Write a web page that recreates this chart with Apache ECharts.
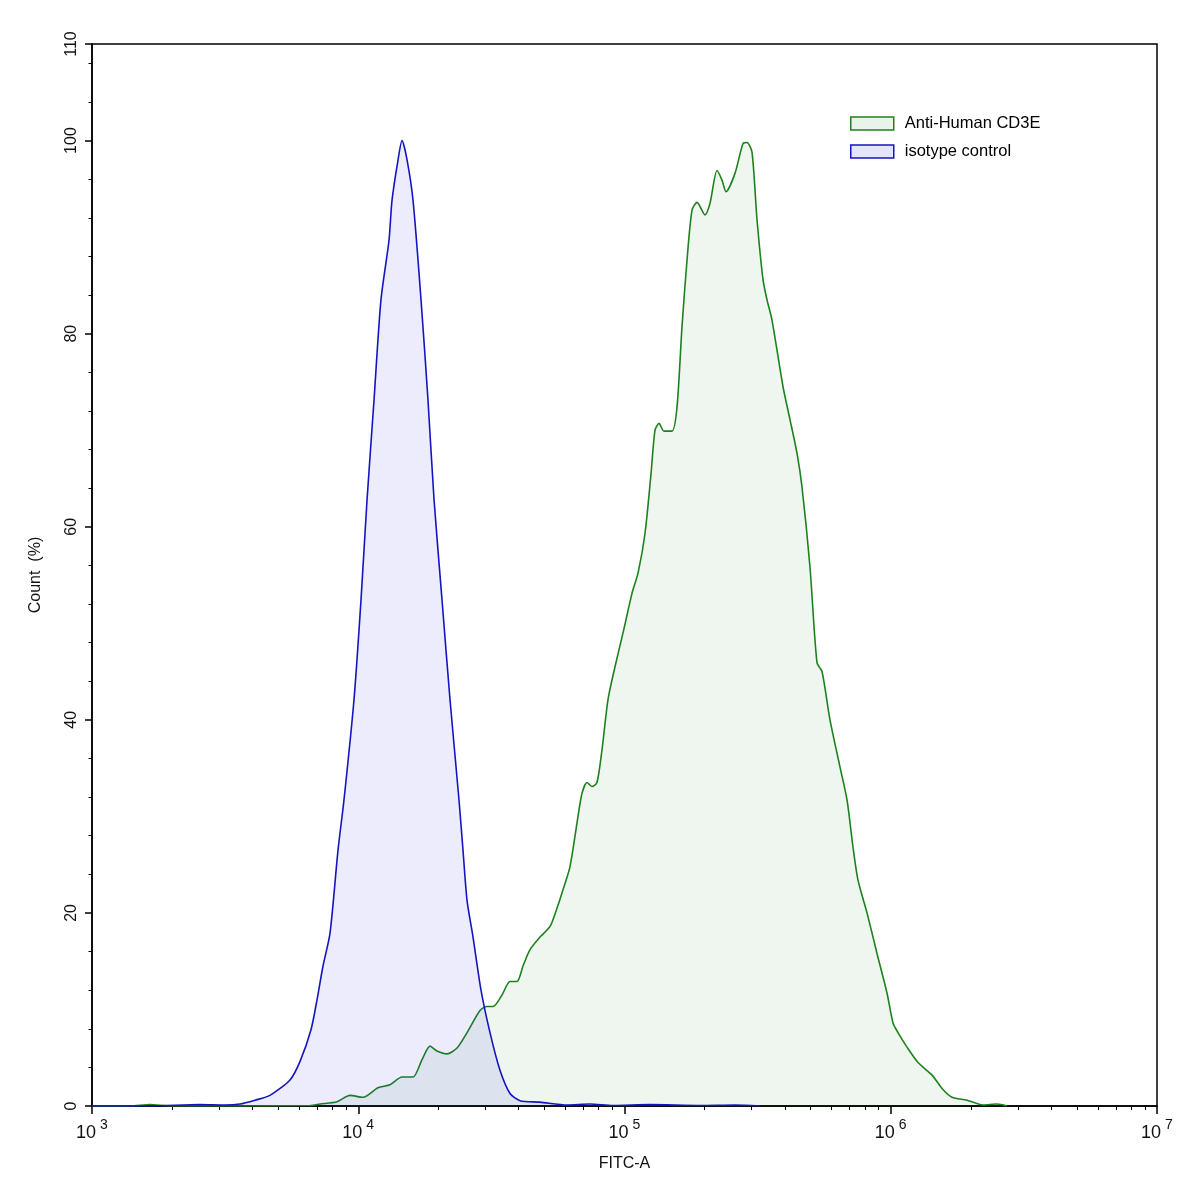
<!DOCTYPE html>
<html>
<head>
<meta charset="utf-8">
<script src="https://cdn.jsdelivr.net/npm/echarts@6/dist/echarts.min.js"></script>
<style>
html,body{margin:0;padding:0;background:#fff;}
#chart{width:1197px;height:1193px;}
</style>
</head>
<body>
<div id="chart"></div>
<script>
// ---- Data (FITC-A intensity vs Count %) ----
const seriesNames = ['Anti-Human CD3E', 'isotype control'];

const fitcIso = [1000, 1651, 2545, 3158, 3596, 4095, 4660, 5540, 6040, 6645, 7000, 7373, 7834, 8394, 8840, 9640, 10240, 10790, 11460, 12170, 13050, 13390, 14110, 14600, 15250, 16060, 17210, 18280, 19260, 20640, 22110, 23900, 24740, 25620, 26980, 28910, 31250, 34070, 37150, 40500, 48150, 60810, 74220, 90540, 124700, 192100, 260000, 322800];
const countIso = [0, 0, 0.15, 0.1, 0.2, 0.6, 1.1, 2.7, 4.6, 7.9, 11.0, 14.5, 17.9, 26.5, 31.7, 42.1, 52.4, 62.8, 73.1, 83.5, 89.7, 93.8, 98.0, 100, 98.0, 93.8, 83.5, 73.1, 62.8, 52.4, 42.1, 31.7, 26.5, 21.3, 17.5, 12.0, 7.6, 3.7, 1.3, 0.55, 0.4, 0.1, 0.2, 0.05, 0.15, 0.05, 0.1, 0];

const fitcCD3E = [1000, 1389, 1651, 1963, 6589, 7183, 8322, 9311, 10420, 11860, 13160, 14600, 16060, 17360, 18600, 19760, 21540, 23490, 25620, 28660, 30440, 32070, 34670, 37150, 39470, 41570, 44170, 48150, 52520, 55800, 58750, 62420, 66900, 69250, 72320, 75480, 78820, 82320, 86700, 92110, 98720, 106700, 112400, 119400, 125800, 130200, 134800, 140800, 150800, 157500, 164400, 171700, 179300, 187300, 200600, 209500, 222600, 232400, 240600, 260000, 278700, 288500, 301200, 314600, 331300, 343000, 358100, 393900, 418400, 444600, 464200, 497400, 528500, 551900, 591300, 644800, 685100, 721600, 753400, 814400, 887900, 968000, 1020000, 1065000, 1151000, 1266000, 1429000, 1571000, 1698000, 1934000, 2221000, 2506000, 2733000];
const countCD3E = [0, 0, 0.15, 0, 0.05, 0.2, 0.45, 1.1, 0.9, 1.9, 2.2, 3.0, 3.0, 4.8, 6.2, 5.7, 5.4, 6.0, 7.6, 9.9, 10.3, 10.3, 11.5, 12.9, 12.9, 14.5, 16.2, 17.5, 18.6, 20.5, 22.4, 24.8, 30.0, 32.4, 33.5, 33.1, 33.5, 36.9, 42.1, 45.5, 49.0, 53.1, 55.2, 59.3, 65.5, 70.0, 70.7, 69.9, 69.9, 72.4, 80.7, 87.6, 92.8, 93.6, 92.3, 93.5, 96.9, 95.9, 94.7, 96.6, 99.7, 99.8, 98.8, 91.8, 85.6, 83.5, 81.4, 74.5, 71.1, 67.6, 64.1, 55.8, 45.9, 45.0, 40.0, 35.1, 31.7, 26.8, 23.4, 20.0, 15.8, 11.7, 8.6, 7.6, 6.1, 4.5, 3.2, 1.7, 0.9, 0.6, 0.1, 0.2, 0];

const xMajorTicks = [1e3, 1e4, 1e5, 1e6, 1e7];
const xMinorTicks = [2e3,3e3,4e3,5e3,6e3,7e3,8e3,9e3, 2e4,3e4,4e4,5e4,6e4,7e4,8e4,9e4, 2e5,3e5,4e5,5e5,6e5,7e5,8e5,9e5, 2e6,3e6,4e6,5e6,6e6,7e6,8e6,9e6];
const yMajorTicks = [0, 20, 40, 60, 80, 100, 110];
const yMinorTicks = [4,8,12,16, 24,28,32,36, 44,48,52,56, 64,68,72,76, 84,88,92,96, 104,108];

// ---- Chart ----
const FONT = '"Liberation Sans", Arial, sans-serif';
const zip = (xs, ys) => xs.map((x, i) => [x, ys[i]]);

const chart = echarts.init(document.getElementById('chart'), null, {renderer: 'canvas'});

const option = {
  backgroundColor: '#ffffff',
  animation: false,
  textStyle: {fontFamily: FONT},
  grid: {left: 92, right: 40, top: 44, bottom: 87, show: true, borderColor: '#000', borderWidth: 1.5, backgroundColor: 'transparent'},
  legend: {
    orient: 'vertical',
    left: 850, top: 115,
    padding: 0,
    icon: 'rect',
    itemWidth: 43, itemHeight: 13,
    itemGap: 11,
    textStyle: {fontSize: 16.5, color: '#000', fontFamily: FONT, lineHeight: 16, padding: [0, 0, 0, 6]},
    data: [
      {name: seriesNames[0], itemStyle: {color: '#e9f3e9', borderColor: '#1d821d', borderWidth: 1.5}},
      {name: seriesNames[1], itemStyle: {color: '#e4e4fa', borderColor: '#1515c0', borderWidth: 1.5}}
    ]
  },
  xAxis: [
    {
      type: 'log', logBase: 10, min: 1e3, max: 1e7,
      name: 'FITC-A', nameLocation: 'middle', nameGap: 50,
      nameTextStyle: {fontSize: 16, color: '#111', fontFamily: FONT},
      axisLine: {show: true, lineStyle: {color: '#000', width: 1.5}},
      axisTick: {show: true, length: 8, lineStyle: {color: '#000', width: 1.5}, customValues: xMajorTicks},
      axisLabel: {
        show: true, margin: 12, customValues: xMajorTicks,
        formatter: function (v) { return '{b|10}{s|' + Math.round(Math.log10(v)) + '}'; },
        rich: {
          b: {fontSize: 18, color: '#111', fontFamily: FONT, verticalAlign: 'bottom', lineHeight: 24},
          s: {fontSize: 14, color: '#111', fontFamily: FONT, padding: [0, 0, 10, 4], verticalAlign: 'bottom', lineHeight: 24}
        }
      },
      splitLine: {show: false}
    },
    {
      type: 'log', logBase: 10, min: 1e3, max: 1e7, position: 'bottom',
      axisLine: {show: false},
      axisTick: {show: true, length: 4, lineStyle: {color: '#000', width: 1}, customValues: xMinorTicks},
      axisLabel: {show: false},
      splitLine: {show: false}
    }
  ],
  yAxis: [
    {
      type: 'value', min: 0, max: 110,
      name: 'Count  (%)', nameLocation: 'middle', nameGap: 48,
      nameTextStyle: {fontSize: 16, color: '#111', fontFamily: FONT},
      axisLine: {show: true, lineStyle: {color: '#000', width: 1.5}},
      axisTick: {show: true, length: 7, lineStyle: {color: '#000', width: 1.5}, customValues: yMajorTicks},
      axisLabel: {show: true, rotate: 90, margin: 12, fontSize: 16, color: '#111', fontFamily: FONT, customValues: yMajorTicks},
      splitLine: {show: false}
    },
    {
      type: 'value', min: 0, max: 110, position: 'left',
      axisLine: {show: false},
      axisTick: {show: true, length: 3.5, lineStyle: {color: '#000', width: 1}, customValues: yMinorTicks},
      axisLabel: {show: false},
      splitLine: {show: false}
    }
  ],
  series: [
    {
      name: seriesNames[0], type: 'line', xAxisIndex: 0, yAxisIndex: 0,
      data: zip(fitcCD3E, countCD3E),
      showSymbol: false, smooth: 0.25,
      lineStyle: {color: '#1d821d', width: 1.6},
      itemStyle: {color: '#1d821d'},
      areaStyle: {color: 'rgba(20,125,20,0.095)', origin: 'start'},
      z: 2
    },
    {
      name: seriesNames[1], type: 'line', xAxisIndex: 0, yAxisIndex: 0,
      data: zip(fitcIso, countIso),
      showSymbol: false, smooth: 0.25,
      lineStyle: {color: '#1515c0', width: 1.6},
      itemStyle: {color: '#1515c0'},
      areaStyle: {color: 'rgba(40,40,230,0.125)', origin: 'start'},
      z: 3
    }
  ]
};
chart.setOption(option);
</script>
</body>
</html>
